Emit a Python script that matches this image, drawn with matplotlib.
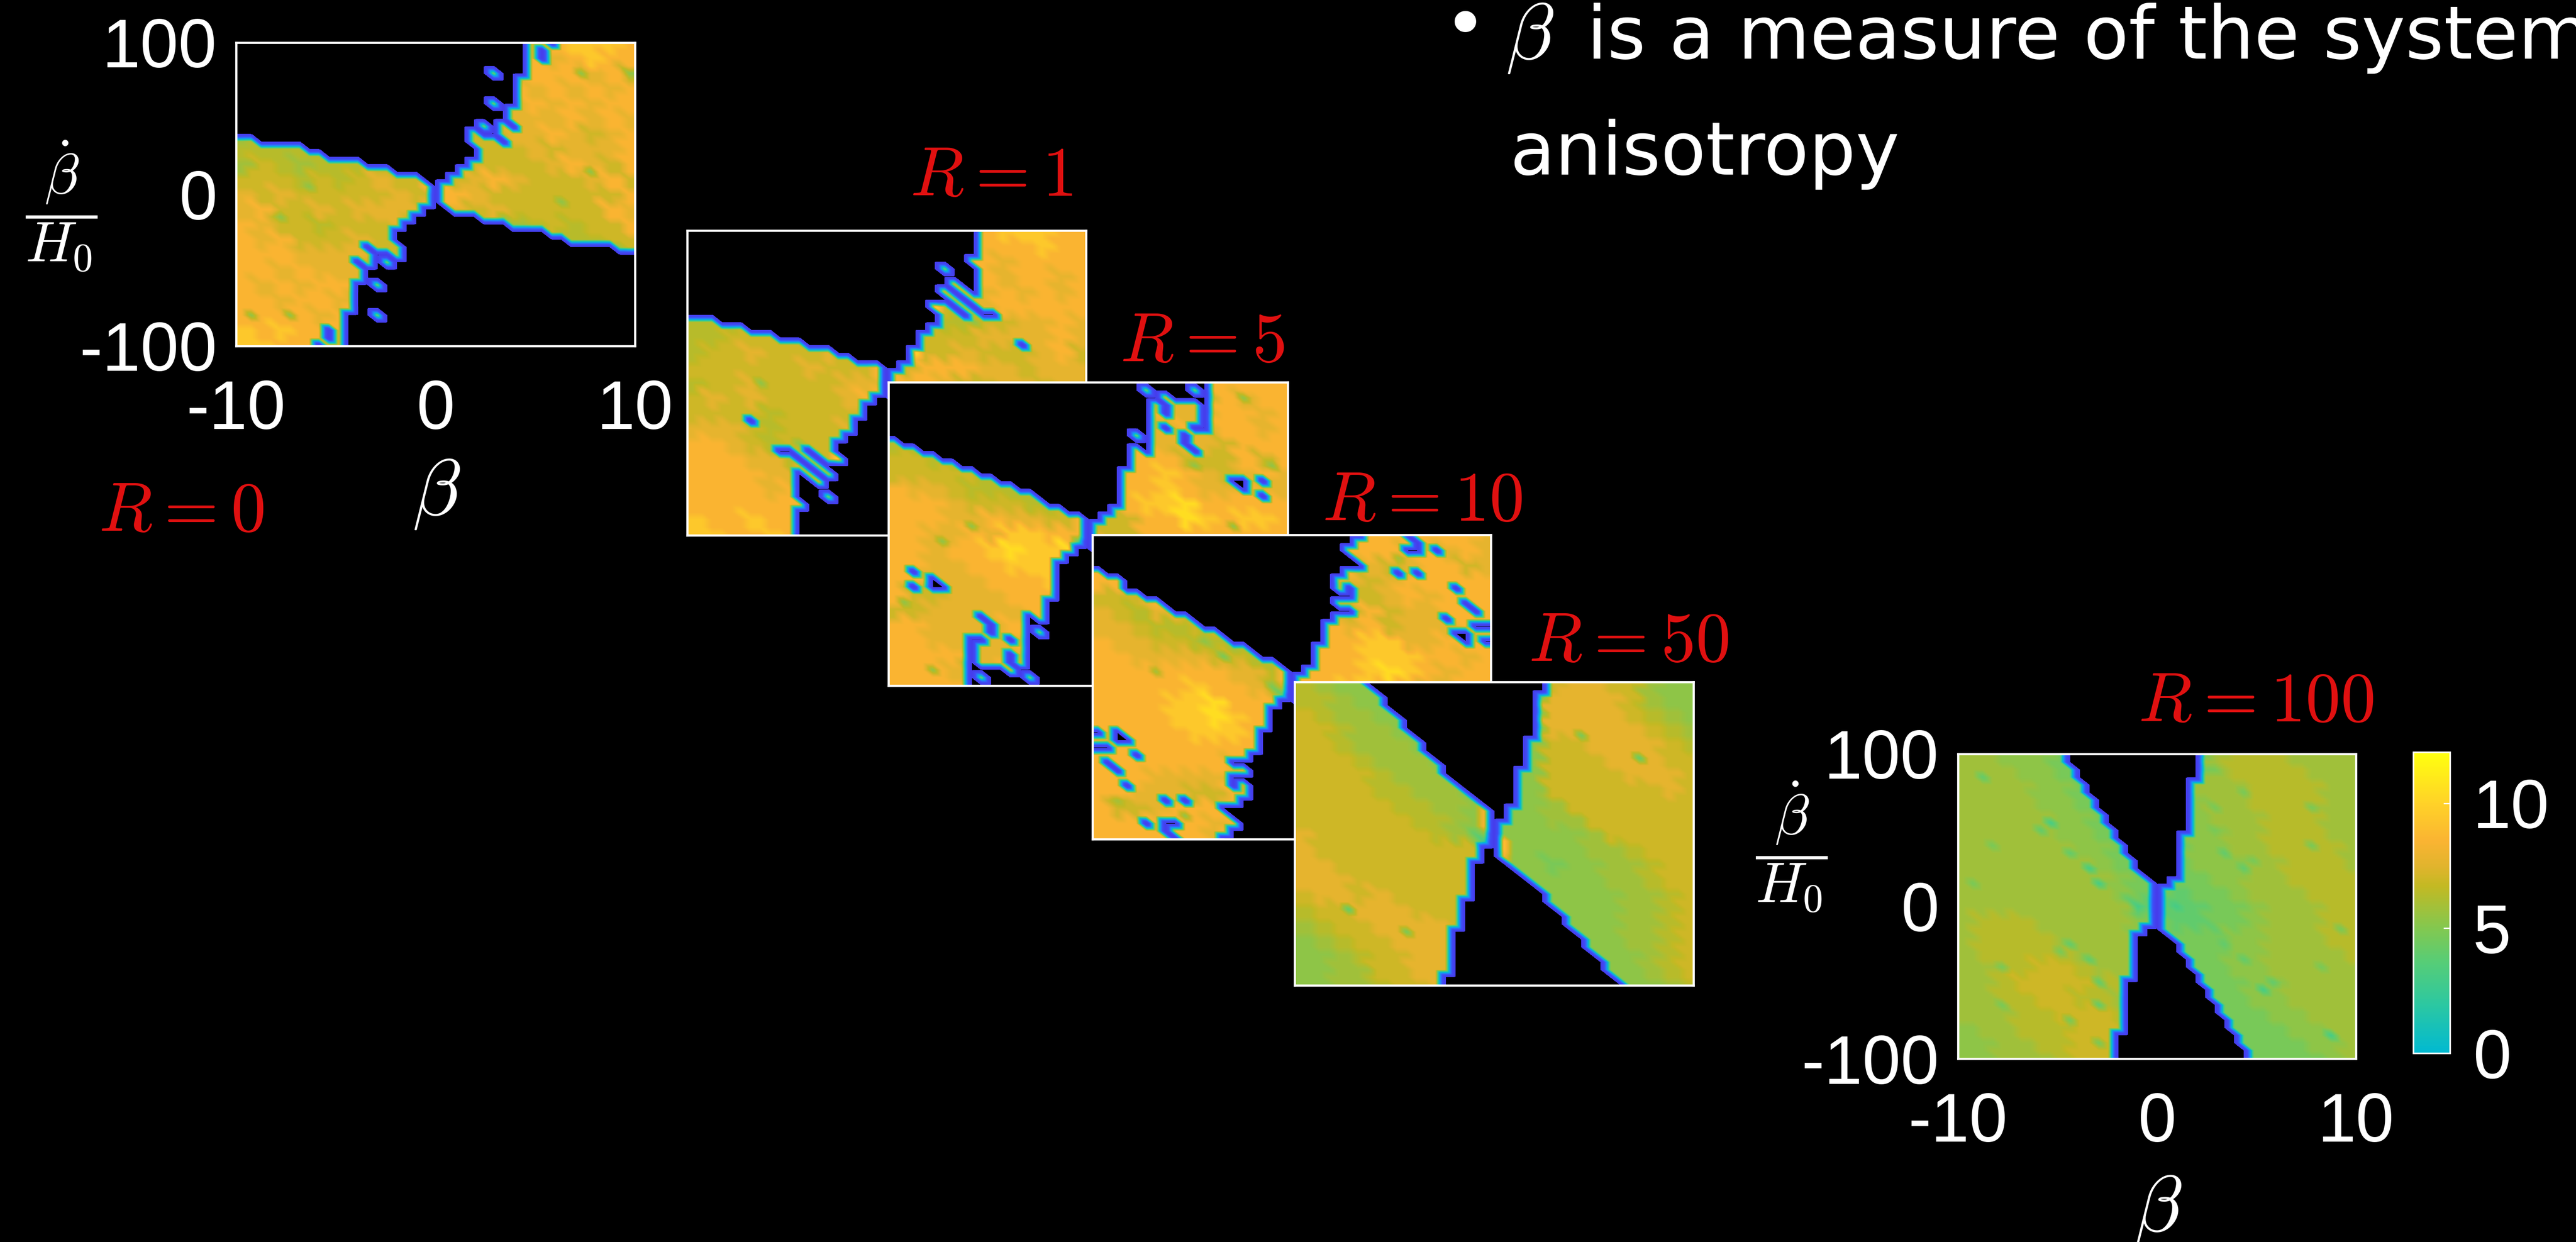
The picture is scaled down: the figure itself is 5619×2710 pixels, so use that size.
import numpy as np
import matplotlib
matplotlib.use("Agg")
import matplotlib.pyplot as plt
from matplotlib.colors import LinearSegmentedColormap, Normalize

plt.rcParams["font.family"] = ["Liberation Sans", "DejaVu Sans"]
plt.rcParams["mathtext.fontset"] = "cm"

# figure size in pixels
W, H = 5619, 2710

# panel titles and shared axis ticks
panel_names = ["R = 0", "R = 1", "R = 5", "R = 10", "R = 50", "R = 100"]
x_ticks = [-10, 0, 10]
x_tick_labels = ["-10", "0", "10"]
y_ticks = [-100, 0, 100]
y_tick_labels = ["-100", "0", "100"]
cbar_ticks = [0, 5, 10]
cbar_tick_labels = ["0", "5", "10"]

# one character per value band, black cells are kept in the span lists
levels = {"0": 3.0, "1": 4.0, "2": 4.7, "3": 5.3, "4": 5.8, "5": 6.4, "6": 7.0,
          "7": 7.7, "8": 8.5, "9": 9.5, "a": 10.5}
BLACK = -14.0

# value bands, read every second row and column of the 41 x 41 grid
r0_values = [
    "888888888888888889998", "888888888888888878988", "888888888888887888786",
    "888888888888888787878", "888888888888887878788", "888888888888867778787",
    "455555555666667787678", "555555555666666767778", "465455566666666678768",
    "666565676666787666786", "767666667688766666668", "786676777777676666687",
    "876656667677664565668", "878666766677666455566", "888777766666664444444",
    "887877766666666666666", "878788766666666666666", "887887766666666666666",
    "888878866666666666666", "989888866666666666666", "998888866666666666666",
]
r1_values = [
    "888888888888888899988", "888888888888888888988", "888888888888888878888",
    "888888888888888878878", "888888888888888787878", "888888888888866788888",
    "555566666666655667787", "556666766666666777787", "566766676666667666786",
    "666666766666888776777", "566766667788876677677", "676766667889766666666",
    "666656666788666666666", "777656667788666666666", "887656666677666666666",
    "888775666666666666666", "888877767666666666666", "888878788666666666666",
    "888888788666666666666", "988988888666666666666", "998898888666666666666",
]
r5_values = [
    "888888888888888688888", "888888888888878768788", "888888888888887778878",
    "888888888888877878878", "555577777777877776888", "665545555777888666868",
    "666665556687889876787", "877655556677889877877", "888766655556899a88888",
    "888778776656688a98998", "887787998876688888888", "887889a99a98888888888",
    "887788999998888888888", "887778889998888888888", "866777888998888888888",
    "667777788888888888888", "887777878888888888888", "887777788888888888888",
    "888877788888888888888", "888767888888888888888", "888877888888888888888",
]
r10_values = [
    "888888888888888888887", "888888888888888878787", "888888888888887678867",
    "888888888888876788888", "666888888888866787888", "765777888888868677888",
    "776556677888878677788", "877665546788889977888", "887777665588889998878",
    "888888877568889a98788", "888889887678899887788", "888899a88877888888888",
    "888899a98887888888888", "888889998888888888888", "888888888888888888888",
    "888888878888888888888", "888777788888888888888", "887776688888888888888",
    "866788878888888888888", "888888788888888888888", "888888788888888888888",
]
r50_values = [
    "543333333333367766433", "554333333333377776433", "654433333333377776543",
    "665443333333377777654", "665444333333366777765", "666544433333366677766",
    "666654443333366667776", "666655444333366666676", "666665544333346666666",
    "666666554333344666666", "766666654333333466666", "766666666633333445666",
    "776666666633323344566", "777666666633333344566", "677676666633333334456",
    "566777666633333334456", "456677776633333334456", "345667777733333334456",
    "334566777733333333456", "334466777733333333456", "334456677733333333345",
]
r100_values = [
    "443332222222245554444", "444332222222245555444", "444433222222444555544",
    "444433222222344555544", "444443322222344455544", "444443322222334455544",
    "444444332222334455554", "444444432222333445554", "444444443222233445555",
    "444444443221223444555", "444444444111122344455", "455544444321122344455",
    "455554444322223344455", "455555444422223344445", "445566544422223344444",
    "445666655422222334444", "445566554422222334444", "444556665422222233444",
    "344555666522222223344", "334455666622222222334", "334445666622222222234",
]

# (row, column, band) single cells that stand out from their surroundings
r0_spots = [(19, 7, "3"), (23, 4, "3"), (4, 35, "3"), (4, 40, "3"), (21, 33, "3"), (17, 36, "3"),
            (36, 1, "3"), (36, 5, "3"), (4, 26, "3"), (8, 26, "3"), (11, 25, "3"), (32, 14, "3"),
            (36, 14, "3"), (29, 15, "3"), (19, 19, "8"), (21, 21, "8")]
r1_spots = [(12, 29, "3"), (20, 7, "3"), (28, 11, "3"), (5, 26, "3"), (35, 14, "3"), (10, 25, "a"),
            (30, 15, "a"), (18, 19, "8"), (19, 19, "8"), (16, 23, "a")]
r5_spots = [(2, 36, "3"), (11, 39, "3"), (11, 31, "3"), (19, 35, "3"), (19, 8, "3"), (21, 5, "3"),
            (29, 1, "3"), (38, 4, "3"), (1, 26, "3"), (1, 31, "3"), (7, 25, "3"), (33, 15, "3"),
            (39, 9, "3"), (39, 14, "3"), (18, 19, "8"), (19, 19, "8"), (21, 19, "1")]
r10_spots = [(3, 31, "4"), (16, 13, "2"), (14, 11, "3"), (18, 6, "4"), (35, 2, "4"), (37, 9, "3"),
             (18, 19, "8"), (19, 19, "8"), (21, 19, "1"), (20, 18, "2")]
r50_spots = [(7, 29, "2"), (10, 35, "1"), (30, 5, "1"), (33, 11, "2"), (17, 19, "8"), (18, 19, "8"),
             (19, 19, "8"), (21, 21, "9"), (22, 21, "9"), (23, 21, "8"), (21, 19, "0"), (20, 18, "1")]
r100_spots = [(3, 2, "1"), (9, 9, "0"), (10, 8, "1"), (12, 3, "2"), (13, 11, "1"), (15, 13, "0"),
              (17, 14, "0"), (20, 18, "0"), (17, 1, "2"), (25, 11, "1"), (26, 10, "2"), (27, 13, "1"),
              (28, 4, "2"), (30, 14, "1"), (33, 4, "2"), (33, 14, "1"), (35, 11, "2"), (38, 14, "2"),
              (2, 26, "2"), (5, 29, "2"), (7, 26, "2"), (7, 36, "2"), (10, 26, "2"), (12, 36, "2"),
              (13, 27, "1"), (14, 30, "2"), (15, 29, "1"), (20, 22, "0"), (23, 26, "1"), (25, 27, "1"),
              (27, 29, "1"), (23, 39, "2"), (28, 37, "2"), (30, 32, "1"), (31, 31, "0"), (37, 38, "0")]

# black cells per row, as inclusive column spans (top row first)
r0_black = [
    [(0, 29), (32, 32)], [(0, 29), (31, 31)], [(0, 29), (31, 31)], [(0, 29)], [(0, 25), (27, 29)],
    [(0, 28)], [(0, 28)], [(0, 28)], [(0, 25), (27, 28)], [(0, 27)],
    [(0, 27)], [(0, 24), (26, 26), (28, 28)], [(0, 23), (25, 26)], [(2, 23), (27, 27)], [(7, 24)],
    [(9, 24)], [(13, 23)], [(16, 22)], [(19, 21)], [(20, 20)],
    [(20, 20)],
    [(20, 20)], [(19, 21)], [(18, 24)], [(17, 27)], [(16, 31)],
    [(16, 33)], [(13, 13), (17, 38)], [(14, 15), (17, 40)], [(12, 12), (14, 14), (16, 40)], [(13, 40)],
    [(13, 40)], [(12, 13), (15, 40)], [(12, 40)], [(12, 40)], [(12, 40)],
    [(11, 13), (15, 40)], [(11, 40)], [(9, 9), (11, 40)], [(9, 9), (11, 40)], [(8, 8), (11, 40)],
]
r1_black = [
    [(0, 29)], [(0, 29)], [(0, 29)], [(0, 29)], [(0, 28)],
    [(0, 25), (27, 29)], [(0, 29)], [(0, 26), (28, 29)], [(0, 25), (27, 27), (29, 29)], [(0, 26), (28, 28)],
    [(0, 24), (27, 27), (29, 29)], [(0, 25), (28, 28), (30, 31)], [(3, 25)], [(6, 24)], [(9, 23)],
    [(12, 23), (34, 34)], [(15, 22)], [(17, 22)], [(20, 21)], [(20, 20)],
    [(20, 20)],
    [(20, 20)], [(19, 20)], [(18, 23)], [(18, 25)], [(6, 6), (17, 28)],
    [(17, 31)], [(16, 34)], [(15, 37)], [(9, 10), (12, 12), (15, 40)], [(11, 11), (13, 13), (16, 40)],
    [(12, 12), (14, 40)], [(11, 11), (13, 13), (15, 40)], [(11, 12), (14, 40)], [(11, 40)], [(11, 13), (15, 40)],
    [(12, 40)], [(11, 40)], [(11, 40)], [(11, 40)], [(11, 40)],
]
r5_black = [
    [(0, 32)], [(0, 25), (27, 30), (32, 32)], [(0, 27), (29, 32)], [(0, 26), (28, 28), (32, 32)],
    [(0, 26), (28, 28), (32, 32)], [(0, 26), (32, 32)], [(0, 26), (28, 28), (31, 32)],
    [(0, 24), (26, 26), (30, 30)], [(1, 26), (30, 30)], [(3, 24), (26, 26), (31, 31)],
    [(5, 24)], [(7, 24)], [(9, 23)], [(11, 23), (35, 36), (38, 38)], [(13, 23), (36, 36)],
    [(15, 23), (38, 38)], [(16, 23)], [(18, 22)], [(20, 21)], [(20, 20)],
    [(20, 20)],
    [(20, 20)], [(19, 20)], [(18, 22)], [(17, 24)], [(2, 2), (17, 25)],
    [(4, 4), (17, 27)], [(2, 2), (4, 5), (17, 29)], [(17, 31)], [(16, 33)], [(16, 35)],
    [(9, 9), (14, 14), (16, 37)], [(10, 10), (14, 39)], [(10, 10), (14, 14), (16, 40)],
    [(8, 9), (12, 12), (14, 40)], [(8, 8), (14, 40)], [(8, 8), (12, 12), (14, 40)],
    [(8, 8), (12, 12), (14, 40)], [(8, 11), (13, 40)], [(8, 8), (10, 13), (15, 40)], [(8, 40)],
]
r10_black = [
    [(0, 27), (32, 32)], [(0, 26), (33, 33)], [(0, 25), (32, 33), (35, 35)], [(0, 26)], [(0, 27)],
    [(1, 25), (31, 31), (33, 33)], [(3, 24)], [(3, 24), (26, 26), (37, 37)], [(5, 26)], [(7, 24), (38, 38)],
    [(8, 26), (39, 39)], [(10, 24), (36, 36)], [(11, 23), (39, 40)], [(13, 23), (37, 38)],
    [(14, 23), (38, 38), (40, 40)], [(16, 22)], [(17, 22)], [(19, 22)], [(20, 21)], [(20, 20)],
    [(20, 20)],
    [(20, 20)], [(19, 20)], [(18, 21)], [(18, 23)], [(18, 24)],
    [(0, 0), (2, 2), (17, 26)], [(2, 3), (17, 27)], [(0, 1), (17, 29)], [(4, 4), (16, 30)], [(1, 1), (14, 32)],
    [(2, 2), (16, 33)], [(14, 35)], [(3, 3), (14, 14), (16, 37)], [(16, 37)], [(7, 7), (9, 9), (15, 39)],
    [(13, 40)], [(14, 40)], [(5, 5), (7, 8), (15, 40)], [(7, 7), (14, 40)], [(8, 8), (13, 40)],
]
r50_black = [
    [(7, 25)], [(8, 25)], [(9, 24)], [(9, 24)], [(10, 24)], [(11, 24)], [(11, 24)], [(12, 24)],
    [(13, 23)], [(13, 23)], [(14, 23)], [(15, 23)], [(15, 22)], [(16, 22)], [(17, 22)], [(18, 22)],
    [(19, 22)], [(20, 21)], [(20, 21)], [(20, 20)],
    [(20, 20)],
    [(20, 20)], [(19, 20)], [(19, 20)], [(18, 21)], [(18, 22)], [(18, 23)], [(18, 24)], [(18, 25)],
    [(17, 25)], [(17, 26)], [(17, 27)], [(17, 27)], [(16, 28)], [(16, 29)], [(16, 29)], [(16, 30)],
    [(16, 31)], [(16, 31)], [(15, 32)], [(15, 33)],
]
r100_black = [
    [(11, 24)], [(11, 24)], [(12, 24)], [(12, 24)], [(13, 23)], [(13, 23)], [(14, 23)], [(14, 23)],
    [(15, 23)], [(15, 23)], [(16, 23)], [(16, 22)], [(17, 22)], [(17, 22)], [(18, 22)], [(18, 22)],
    [(19, 22)], [(20, 21)], [(20, 20)], [(20, 20)],
    [(20, 20)],
    [(20, 20)], [(20, 20)], [(19, 20)], [(18, 21)], [(18, 22)], [(18, 22)], [(18, 23)], [(18, 23)],
    [(18, 24)], [(17, 24)], [(17, 25)], [(17, 25)], [(17, 26)], [(17, 26)], [(17, 27)], [(17, 27)],
    [(16, 28)], [(16, 28)], [(16, 29)], [(16, 29)],
]

all_values = [r0_values, r1_values, r5_values, r10_values, r50_values, r100_values]
all_spots = [r0_spots, r1_spots, r5_spots, r10_spots, r50_spots, r100_spots]
all_black = [r0_black, r1_black, r5_black, r10_black, r50_black, r100_black]

# colour table: goes black -> blue -> cyan below zero, the colourbar only shows 0 and up
cmap_stops = [(-14, (0, 0, 0)), (-13.6, (0, 0, 0)), (-13.5, (70, 60, 235)), (-7, (65, 75, 245)),
              (-3, (35, 130, 250)), (-1, (15, 170, 230)), (0, (0, 185, 210)), (2, (45, 200, 160)),
              (3.6, (85, 205, 120)), (5, (130, 200, 80)), (6.7, (195, 185, 35)), (7.5, (225, 180, 45)),
              (8.5, (250, 180, 50)), (10, (255, 210, 40)), (12, (255, 255, 15))]
cmap = LinearSegmentedColormap.from_list(
    "regions", [((v + 14) / 26, tuple(ch / 255 for ch in col)) for v, col in cmap_stops], N=1024)
norm = Normalize(-14, 12)


def build_grid(values, spots, black):
    grid = np.zeros((41, 41))
    for r in range(41):
        for c in range(41):
            # stagger the read-off blocks so they do not show as squares
            row = values[min((r + c % 2) // 2, 20)]
            grid[r, c] = levels[row[min((c + r % 2) // 2, 20)]]
    for r, c, band in spots:
        grid[r, c] = levels[band]
    for r, spans in enumerate(black):
        for a, b in spans:
            grid[r, a:b + 1] = BLACK
    return grid


def shade_triangles(grid, n=7):
    # interpolated shading on triangles, every cell split along its \ diagonal
    rows = np.linspace(0, 40, 40 * n + 1)
    cols = np.clip(np.linspace(-0.5, 40.5, 41 * n + 1), 0, 40)
    rr, cc = np.meshgrid(rows, cols, indexing="ij")
    r0 = np.minimum(rr.astype(int), 39)
    c0 = np.minimum(cc.astype(int), 39)
    v = rr - r0
    u = cc - c0
    a = grid[r0, c0]
    b = grid[r0, c0 + 1]
    d = grid[r0 + 1, c0]
    e = grid[r0 + 1, c0 + 1]
    upper = a + u * (b - a) + v * (e - b)
    lower = a + v * (d - a) + u * (e - d)
    return np.where(u >= v, upper, lower)


def px_axes(x0, y0, x1, y1, z):
    return fig.add_axes([x0 / W, 1 - y1 / H, (x1 - x0) / W, (y1 - y0) / H], zorder=z)


def px_text(x, y, s, **kw):
    kw.setdefault("ha", "center")
    kw.setdefault("va", "center")
    kw.setdefault("color", "white")
    return fig.text(x / W, 1 - y / H, s, zorder=20, **kw)


fig = plt.figure(figsize=(W / 100, H / 100), dpi=100, facecolor="black")

# pixel boxes of the six panels, later ones sit on top
boxes = [(515, 93, 1385, 755), (1499, 503, 2369, 1168), (1938, 834, 2809, 1496),
         (2383, 1167, 3252, 1831), (2824, 1488, 3694, 2150), (4271, 1645, 5139, 2310)]
title_pos = [(395, 1120), (2162, 388), (2622, 750), (3103, 1097), (3553, 1404), (4921, 1535)]

im = None
for i, box in enumerate(boxes):
    ax = px_axes(*box, z=i + 1)
    ax.set_facecolor("black")
    grid = build_grid(all_values[i], all_spots[i], all_black[i])
    im = ax.imshow(shade_triangles(grid), cmap=cmap, norm=norm, extent=(-10, 10, -100, 100), origin="upper",
                   aspect="auto", interpolation="bilinear", interpolation_stage="data")
    ax.set_xlim(-10, 10)
    ax.set_ylim(-100, 100)
    for sp in ax.spines.values():
        sp.set_color("white")
        sp.set_linewidth(3.4)
    if i in (0, 5):
        ax.set_xticks(x_ticks)
        ax.set_xticklabels(x_tick_labels)
        ax.set_yticks(y_ticks)
        ax.set_yticklabels(y_tick_labels)
        ax.tick_params(axis="x", length=0, labelsize=108, labelcolor="white", pad=52)
        ax.tick_params(axis="y", length=0, labelsize=108, labelcolor="white", pad=30)
    else:
        ax.set_xticks([])
        ax.set_yticks([])
    name = panel_names[i].replace(" ", "")
    left, right = name.split("=")
    px_text(title_pos[i][0], title_pos[i][1], "$" + left + "=" + right + "$", color="#e01010", fontsize=110)

# colourbar next to the last panel
cax = px_axes(5264, 1641, 5344, 2298, 7)
cb = fig.colorbar(im, cax=cax, boundaries=np.linspace(0, 12.05, 241))
cb.set_ticks(cbar_ticks)
cb.set_ticklabels(cbar_tick_labels)
cb.outline.set_edgecolor("white")
cb.outline.set_linewidth(2.5)
cb.ax.tick_params(axis="y", direction="in", length=10, width=2, color="white", labelsize=108,
                  labelcolor="white", pad=36)

# axis labels
frac = r"$\dfrac{\dot{\beta}}{H_0}$"
px_text(134, 450, frac, fontsize=90)
px_text(952, 1078, r"$\beta$", fontsize=125)
px_text(3908, 1848, frac, fontsize=90)
px_text(4707, 2640, r"$\beta$", fontsize=125)

# slide text on the top right, runs off the edge like the original
px_text(3196, 62, "\u2022", fontsize=116, family="DejaVu Sans")
px_text(3285, 128, r"$\beta$", fontsize=125, ha="left", va="baseline")
px_text(3461, 128, "is a measure of the system", fontsize=116, ha="left", va="baseline", family="DejaVu Sans")
px_text(3293, 381, "anisotropy", fontsize=116, ha="left", va="baseline", family="DejaVu Sans")

fig.savefig("out.png", dpi=100, facecolor="black")
